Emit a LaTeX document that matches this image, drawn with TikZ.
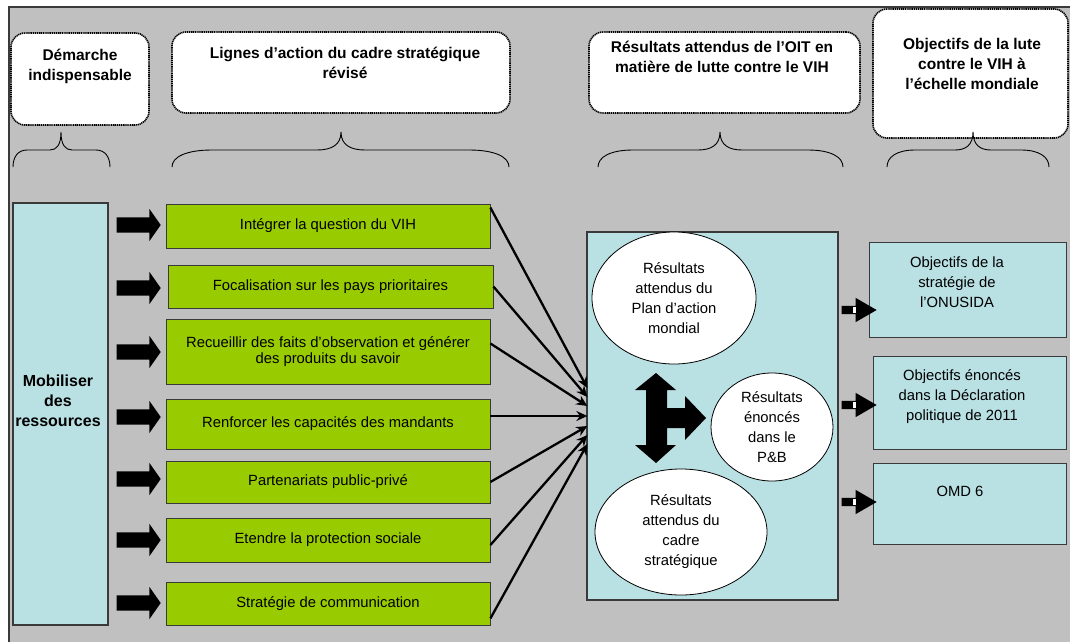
\documentclass[tikz,border=0pt]{standalone}
\usepackage{fontspec}
\setmainfont{Liberation Sans}
\usetikzlibrary{shapes.geometric,shapes.arrows,arrows.meta,calc}
\definecolor{bg}{HTML}{C0C0C0}
\definecolor{lblue}{HTML}{B9E0E3}
\definecolor{lgreen}{HTML}{99CC00}
\definecolor{edgec}{HTML}{3A3A3A}
\newcommand\upbr[5]{%
  \draw[bracel] (#1,167) .. controls (#1,157) and (#1+#4*0.35,150) .. (#1+#4,150)
    -- (#2-#5,150) .. controls (#2-#5*0.4,150) and (#2,145) .. (#2,132)
    .. controls (#2,145) and (#2+#5*0.4,150) .. (#2+#5,150)
    -- (#3-#4,150) .. controls (#3-#4*0.35,150) and (#3,157) .. (#3,167);}
\begin{document}
\begin{tikzpicture}[x=1pt,y=-1pt,
 hdr/.style={draw=black,dash pattern=on 1.2pt off 0.7pt,line width=1.6pt,fill=white,rounded corners=14pt,inner sep=0pt},
 hdrtxt/.style={font=\fontsize{15.5}{20}\selectfont\bfseries,align=center,inner sep=0pt},
 gbox/.style={draw=edgec,fill=lgreen,line width=0.8pt,minimum width=324pt,inner sep=0pt,font=\fontsize{14.8}{16.5}\selectfont,align=center},
 bbox/.style={draw=edgec,fill=lblue,line width=1pt,inner sep=0pt},
 ell/.style={ellipse,draw=black,fill=white,line width=0.8pt,inner sep=0pt},
 body/.style={font=\fontsize{14.8}{20}\selectfont,align=center,inner sep=0pt},
 barrow/.style={single arrow,fill=black,draw=none,inner xsep=0pt,inner ysep=7.5pt,minimum height=44pt,single arrow head extend=8.5pt,single arrow tip angle=110},
 rarrow/.style={single arrow,fill=black,draw=none,inner xsep=0pt,inner ysep=4pt,minimum height=35pt,single arrow head extend=8pt,single arrow tip angle=60},
 bracel/.style={draw=black,line width=0.9pt},
 conn/.style={line width=2.3pt,-{Stealth[length=11pt,width=10pt]}}
]
\useasboundingbox (0,0) rectangle (1070,642);
\fill[white] (0,0) rectangle (1070,642);
\fill[bg] (9,7) rectangle (1070,642);
\draw[edgec,line width=1.2pt] (9,642) -- (9,7) -- (1070,7);

% headers
\node[hdr,minimum width=138pt,minimum height=92pt] (h1) at (80,79) {};
\node[hdrtxt] (t1) at (80,66) {Démarche\\indispensable};
\node[hdr,minimum width=338pt,minimum height=81pt] (h2) at (341,72.5) {};
\node[hdrtxt] (t2) at (345,63) {Lignes d’action du cadre stratégique\\révisé};
\node[hdr,minimum width=271pt,minimum height=81pt] (h3) at (724.5,72.5) {};
\node[hdrtxt] (t3) at (722,57) {Résultats attendus de l’OIT en\\matière de lutte contre le VIH};
\node[hdr,minimum width=195pt,minimum height=129pt] (h4) at (970.5,73.5) {};
\node[hdrtxt] (t4) at (972,64) {Objectifs de la lute\\contre le VIH à\\l’échelle mondiale};

% braces
\upbr{13}{61}{110}{14}{11}
\upbr{172}{341}{509}{40}{24}
\upbr{598}{720}{843}{35}{22}
\upbr{887}{973}{1049}{28}{18}

% mobiliser
\node[bbox,line width=1.3pt,minimum width=95pt,minimum height=422pt] (mob) at (60.5,414) {};
\node[hdrtxt,font=\fontsize{16}{20}\selectfont\bfseries] (mobt) at (58,401) {Mobiliser\\des\\ressources};

% block arrows
\foreach \i/\y in {1/225,2/288,3/352,4/417,5/479,6/540,7/603}
  \node[barrow] (ba\i) at (136,\y) {};

% green boxes
\node[gbox,minimum height=44pt] (g1) at (328,226) {Intégrer la question du VIH};
\node[gbox,minimum width=325pt,minimum height=43pt] (g2) at (330.5,286.5) {Focalisation sur les pays prioritaires};
\node[gbox,minimum height=65pt] (g3) at (328,351.5) {Recueillir des faits d’observation et générer\\des produits du savoir};
\node[gbox,minimum height=50pt] (g4) at (328,424) {Renforcer les capacités des mandants};
\node[gbox,minimum height=42pt] (g5) at (328,482) {Partenariats public-privé};
\node[gbox,minimum height=44pt] (g6) at (328,540) {Etendre la protection sociale};
\node[gbox,minimum height=43pt] (g7) at (328,603.5) {Stratégie de communication};

% big box
\node[bbox,line width=1.3pt,minimum width=251pt,minimum height=368pt] (big) at (712.5,416) {};
\node[ell,minimum width=164pt,minimum height=132pt,body] (e1) at (674,298) {Résultats\\attendus du\\Plan d’action\\mondial};
\node[ell,minimum width=122pt,minimum height=108pt,body] (e2) at (772,427) {Résultats\\énoncés\\dans le\\P\&B};
\node[ell,minimum width=172pt,minimum height=126pt,body] (e3) at (681,532) {Résultats\\attendus du\\cadre\\stratégique};

% T arrow
\fill[black] (656,373) -- (676,390) -- (667,390) -- (667,408) -- (685,408) -- (685,396)
  -- (706,418) -- (685,440) -- (685,428) -- (667,428) -- (667,445) -- (676,445)
  -- (656,463) -- (635,445) -- (646,445) -- (646,390) -- (635,390) -- cycle;

% convergence coordinates
\coordinate (c1) at ($(big.west)+(1,-28)$);
\coordinate (c2) at ($(big.west)+(1,-19)$);
\coordinate (c3) at ($(big.west)+(1,-10)$);
\coordinate (c4) at ($(big.west)+(1,0)$);
\coordinate (c5) at ($(big.west)+(1,10)$);
\coordinate (c6) at ($(big.west)+(1,19)$);
\coordinate (c7) at ($(big.west)+(1,28)$);
\draw[conn] ($(g1.north east)+(0,4)$) -- (c1);
\draw[conn] (g2.east) -- (c2);
\draw[conn] ($(g3.east)+(0,-8)$) -- (c3);
\draw[conn] ($(g4.east)+(0,-8)$) -- (c4);
\draw[conn] (g5.east) -- (c5);
\draw[conn] ($(g6.east)+(0,5)$) -- (c6);
\draw[conn] ($(g7.south east)+(0,-7)$) -- (c7);

% right boxes
\node[bbox,minimum width=197pt,minimum height=95pt] (r1) at (967.5,289.5) {};
\node[body] (r1t) at (957,282) {Objectifs de la\\stratégie de\\l’ONUSIDA};
\node[bbox,minimum width=193pt,minimum height=93pt] (r2) at (969.5,402.5) {};
\node[body] (r2t) at (962,397) {Objectifs énoncés\\dans la Déclaration\\politique de 2011};
\node[bbox,minimum width=193pt,minimum height=81pt] (r3) at (969.5,503.5) {};
\node[body] (r3t) at (960,491) {OMD 6};

% right arrows
\node[rarrow] (ra1) at (855.5,310) {};
\node[rarrow] (ra2) at (855.5,405) {};
\node[rarrow] (ra3) at (855.5,502) {};
\foreach \r in {ra1,ra2,ra3}
  \fill[white] ($(\r.center)+(-3,-3)$) rectangle ($(\r.center)+(0,3)$);
\end{tikzpicture}
\end{document}
